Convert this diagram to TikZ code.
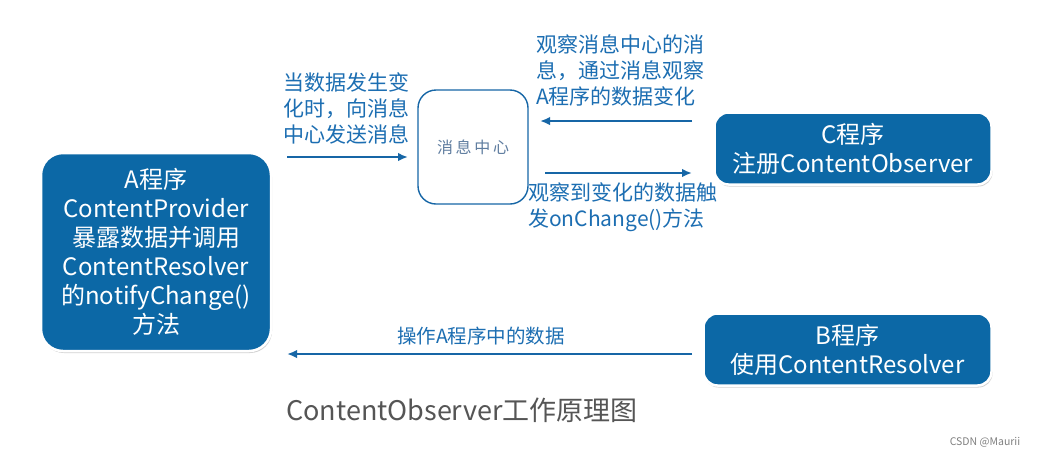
\documentclass[tikz,border=0pt]{standalone}
\usepackage{fontspec}
\setmainfont{Noto Sans CJK SC}
\usetikzlibrary{arrows.meta,shadows}
\definecolor{boxblue}{RGB}{12,104,166}
\definecolor{txtblue}{RGB}{28,110,178}
\definecolor{lineblue}{RGB}{22,102,166}
\definecolor{msgtxt}{RGB}{95,125,160}
\definecolor{titlegray}{RGB}{85,85,85}
\tikzset{
  bluebox/.style={draw=white, line width=2.5pt, fill=boxblue, rounded corners=22pt,
    text=white, align=center, font=\fontsize{24}{29}\selectfont,
    drop shadow={shadow xshift=1pt, shadow yshift=-2pt, opacity=0.35, fill=gray}, inner sep=0pt},
  msgbox/.style={draw=lineblue, line width=1.4pt, fill=white, rounded corners=18pt,
    text=msgtxt, font=\fontsize{16}{18}\selectfont, inner sep=0pt},
  lbl/.style={text=txtblue, align=left, font=\fontsize{21}{26}\selectfont, inner sep=0pt},
  arr/.style={draw=lineblue, line width=2.3pt, -{Latex[length=10pt,width=8.5pt]}},
}
\begin{document}
\begin{tikzpicture}[x=1pt,y=-1pt]
\useasboundingbox[fill=white] (0,0) rectangle (1046,459);
\node[bluebox, minimum width=230pt, minimum height=198pt] (A) at (156,252)
  {A程序\\ContentProvider\\暴露数据并调用\\ContentResolver\\的notifyChange()\\方法};
\node[msgbox, minimum width=110pt, minimum height=114pt] (M) at (473,147) {消\,息\,中\,心};
\node[bluebox, minimum width=277pt, minimum height=72pt, rounded corners=14pt] (C) at (853,148.5)
  {C程序\\注册ContentObserver};
\node[bluebox, minimum width=288pt, minimum height=72pt, rounded corners=14pt] (B) at (847.5,349.5)
  {B程序\\使用ContentResolver};
% labels
\node[lbl, anchor=north west] (L1) at (283,72) {当数据发生变\\化时，向消息\\中心发送消息};
\node[lbl, anchor=north west] (L2) at (536,34) {观察消息中心的消\\息，通过消息观察\\A程序的数据变化};
\node[lbl, anchor=north west] (L3) at (528,182) {观察到变化的数据触\\发onChange()方法};
\node[text=txtblue, font=\fontsize{19.5}{22}\selectfont, inner sep=0pt] (L4) at (481,336) {操作A程序中的数据};
\node[text=titlegray, font=\fontsize{27}{30}\selectfont, inner sep=0pt, anchor=west] (T) at (286,410) {ContentObserver工作原理图};
\node[text=gray, font=\fontsize{10.5}{12}\selectfont, inner sep=0pt] (W) at (985,442) {CSDN @Maurii};
% arrows
\coordinate (a1s) at (287,157);
\coordinate (a1e) at (408,157);
\coordinate (a2s) at (692,121);
\coordinate (a2e) at (540,121);
\coordinate (a3s) at (545,173);
\coordinate (a3e) at (692,173);
\coordinate (a4s) at (692,354);
\coordinate (a4e) at (287,354);
\draw[arr] (a1s) -- (a1e);
\draw[arr] (a2s) -- (a2e);
\draw[arr] (a3s) -- (a3e);
\draw[arr] (a4s) -- (a4e);
\end{tikzpicture}
\end{document}
